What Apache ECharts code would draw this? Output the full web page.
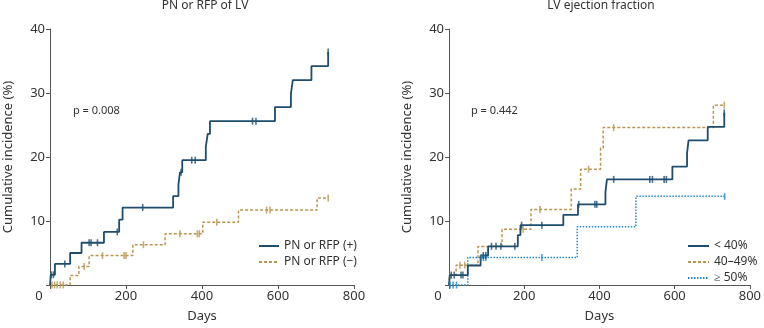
<!DOCTYPE html>
<html>
<head>
<meta charset="utf-8">
<script src="https://cdn.jsdelivr.net/npm/echarts@6/dist/echarts.min.js"></script>
<style>
html,body{margin:0;padding:0;background:#fff;}
#c{width:764px;height:328px;}
</style>
</head>
<body>
<div id="c"></div>
<script>
// ---- Data (days, cumulative incidence %) ----
var xTicks = [0, 200, 400, 600, 800];
var yTicks = [0, 10, 20, 30, 40];

// Left panel: PN or RFP of LV
var posTimes  = [2, 13, 53, 83, 142, 182, 191, 324, 338, 342, 348, 410, 415, 421, 592, 634, 639, 688, 732];
var posValues = [1.6, 3.3, 5.0, 6.6, 8.3, 10.2, 12.1, 13.9, 15.7, 17.6, 19.5, 21.6, 23.6, 25.6, 27.8, 29.9, 32.0, 34.2, 36.4];
var posEnd = 732;
var posCensor = [3, 9, 39, 103, 108, 125, 177, 244, 345, 373, 382, 533, 542, 732];

var negTimes  = [53, 76, 103, 218, 303, 402, 496, 703];
var negValues = [1.5, 2.9, 4.6, 6.3, 8.0, 9.8, 11.7, 13.6];
var negEnd = 732;
var negCensor = [5, 12, 19, 27, 35, 90, 138, 195, 200, 246, 342, 388, 393, 439, 570, 579, 732];

// Right panel: LV ejection fraction
var lt40Times  = [2, 50, 84, 104, 183, 190, 304, 343, 416, 420, 594, 633, 637, 688, 732];
var lt40Values = [1.55, 3.05, 4.6, 6.05, 7.8, 9.35, 10.95, 12.6, 14.5, 16.5, 18.5, 20.6, 22.6, 24.7, 26.9];
var lt40End = 732;
var lt40Censor = [6, 14, 32, 37, 91, 98, 113, 125, 138, 175, 193, 247, 345, 388, 393, 438, 534, 541, 572, 578, 732];

var midTimes  = [2, 19, 77, 141, 218, 325, 350, 403, 410, 703];
var midValues = [1.6, 3.1, 6.0, 8.7, 11.8, 15.0, 18.1, 21.4, 24.6, 28.1];
var midEnd = 732;
var midCensor = [29, 42, 197, 242, 371, 438, 732];

var ge50Times  = [50, 341, 497];
var ge50Values = [4.3, 9.1, 13.85];
var ge50End = 733;
var ge50Censor = [3, 11, 20, 86, 92, 98, 247, 733];

var leftTitle = 'PN or RFP of LV';
var rightTitle = 'LV ejection fraction';
var leftP = 'p = 0.008';
var rightP = 'p = 0.442';
var names = ['PN or RFP (+)', 'PN or RFP (\u2212)', '< 40%', '40\u201349%', '\u2265 50%'];

// ---- helpers ----
function stepData(times, values, end) {
  var d = [[0, 0]];
  for (var i = 0; i < times.length; i++) d.push([times[i], values[i]]);
  d.push([end, values[values.length - 1]]);
  return d;
}
function censorData(times, values, cens) {
  return cens.map(function (t) {
    var v = 0;
    for (var i = 0; i < times.length; i++) if (times[i] <= t) v = values[i];
    return [t, v];
  });
}

var BLUE = '#1e4d6d', GOLD = '#b8964f', LBLUE = '#2489c8';
var FONT = 'Noto Sans';

function xAxis(idx) {
  return {
    gridIndex: idx, type: 'value', min: 0, max: 800, interval: 200,
    name: 'Days', nameLocation: 'middle', nameGap: 25,
    nameTextStyle: { fontSize: 13, color: '#333', fontFamily: FONT },
    axisLine: { show: true, lineStyle: { color: '#555', width: 1 } },
    axisTick: { show: true, length: 4, lineStyle: { color: '#555' } },
    splitLine: { show: false },
    axisLabel: {
      fontSize: 13, color: '#333', fontFamily: FONT, margin: 5,
      formatter: function (v) { return v === 0 ? '{z|0}' : String(v); },
      rich: { z: { fontSize: 13, color: '#333', fontFamily: FONT, padding: [0, 22, 0, 0] } }
    }
  };
}
function yAxis(idx) {
  return {
    gridIndex: idx, type: 'value', min: 0, max: 40, interval: 10,
    name: 'Cumulative incidence (%)', nameLocation: 'middle', nameGap: 35, nameRotate: 90,
    nameTextStyle: { fontSize: 13, color: '#333', fontFamily: FONT },
    axisLine: { show: true, lineStyle: { color: '#555', width: 1 } },
    axisTick: { show: true, length: 4, lineStyle: { color: '#555' } },
    splitLine: { show: false },
    axisLabel: {
      fontSize: 13, color: '#333', fontFamily: FONT, margin: 5,
      formatter: function (v) { return v === 0 ? '' : String(v); }
    }
  };
}
function lineSeries(name, idx, data, color, type, width) {
  return {
    name: name, type: 'line', xAxisIndex: idx, yAxisIndex: idx, step: 'end',
    data: data, symbol: 'none', showSymbol: false, animation: false,
    lineStyle: { color: color, width: width, type: type }, itemStyle: { color: color }, z: 2
  };
}
function censorSeries(idx, data, color) {
  return {
    name: 'censor', type: 'scatter', xAxisIndex: idx, yAxisIndex: idx,
    data: data, symbol: 'rect', symbolSize: [1.6, 7], animation: false,
    itemStyle: { color: color }, z: 3, silent: true
  };
}

var chart = echarts.init(document.getElementById('c'), null, { renderer: 'canvas' });
chart.setOption({
  backgroundColor: '#fff',
  animation: false,
  grid: [
    { left: 50, top: 29, width: 304, height: 258 },
    { left: 449, top: 29, width: 304, height: 258 }
  ],
  xAxis: [xAxis(0), xAxis(1)],
  yAxis: [yAxis(0), yAxis(1)],
  legend: [
    {
      left: 253, top: 235, orient: 'vertical', itemWidth: 20, itemHeight: 12, itemGap: 4,
      data: [names[0], names[1]],
      itemStyle: { opacity: 0 },
      textStyle: { fontSize: 12, color: '#333', fontFamily: FONT }
    },
    {
      left: 682, top: 235, orient: 'vertical', itemWidth: 21, itemHeight: 12, itemGap: 4,
      data: [names[2], names[3], names[4]],
      itemStyle: { opacity: 0 },
      textStyle: { fontSize: 12, color: '#333', fontFamily: FONT }
    }
  ],
  graphic: [
    { type: 'text', x: 205, y: 0, style: { text: leftTitle, align: 'center', verticalAlign: 'top', fontSize: 12, fill: '#333', fontFamily: FONT } },
    { type: 'text', x: 601, y: 0, style: { text: rightTitle, align: 'center', verticalAlign: 'top', fontSize: 12, fill: '#333', fontFamily: FONT } },
    { type: 'text', x: 73, y: 111, style: { text: leftP, align: 'left', verticalAlign: 'middle', fontSize: 11, fill: '#333', fontFamily: FONT } },
    { type: 'text', x: 471, y: 111, style: { text: rightP, align: 'left', verticalAlign: 'middle', fontSize: 11, fill: '#333', fontFamily: FONT } }
  ],
  series: [
    lineSeries(names[1], 0, stepData(negTimes, negValues, negEnd), GOLD, [3, 2], 1.5),
    lineSeries(names[0], 0, stepData(posTimes, posValues, posEnd), BLUE, 'solid', 1.8),
    censorSeries(0, censorData(negTimes, negValues, negCensor), GOLD),
    censorSeries(0, censorData(posTimes, posValues, posCensor), BLUE),
    lineSeries(names[4], 1, stepData(ge50Times, ge50Values, ge50End), LBLUE, [1.5, 1.5], 1.5),
    lineSeries(names[3], 1, stepData(midTimes, midValues, midEnd), GOLD, [3, 2], 1.5),
    lineSeries(names[2], 1, stepData(lt40Times, lt40Values, lt40End), BLUE, 'solid', 1.8),
    censorSeries(1, censorData(ge50Times, ge50Values, ge50Censor), LBLUE),
    censorSeries(1, censorData(midTimes, midValues, midCensor), GOLD),
    censorSeries(1, censorData(lt40Times, lt40Values, lt40Censor), BLUE)
  ]
});
</script>
</body>
</html>
